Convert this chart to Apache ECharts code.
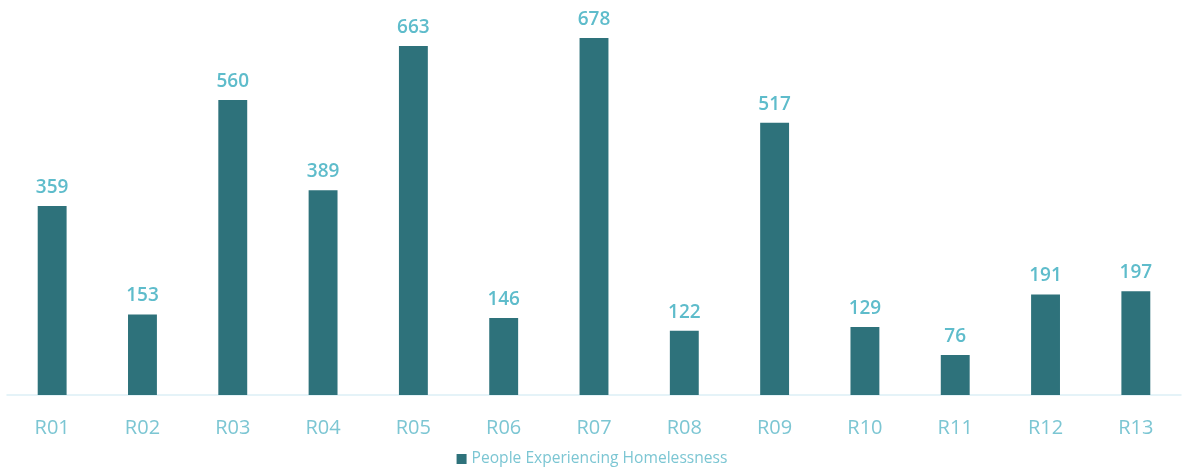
<!DOCTYPE html>
<html><head><meta charset="utf-8">
<script src="https://cdn.jsdelivr.net/npm/echarts@6/dist/echarts.min.js"></script>
<style>html,body{margin:0;padding:0;background:#fff}#c{width:1184px;height:475px}</style>
</head><body><div id="c"></div>
<script>
const categories = ["R01","R02","R03","R04","R05","R06","R07","R08","R09","R10","R11","R12","R13"];
const values = [359,153,560,389,663,146,678,122,517,129,76,191,197];
const seriesName = "People Experiencing Homelessness";
const chart = echarts.init(document.getElementById('c'));
chart.setOption({
  animation:false,
  grid:{left:7,right:3,top:26.4,bottom:80,containLabel:false},
  legend:{bottom:3,left:'center',itemWidth:10,itemHeight:10,itemGap:6,icon:'rect',
    textStyle:{color:'#7cc6d3',fontSize:15.6,fontFamily:'Open Sans'},data:[seriesName]},
  xAxis:{type:'category',data:categories,
    axisLine:{lineStyle:{color:'#ddeff6',width:1.5}},axisTick:{show:false},
    axisLabel:{color:'#7cc6d3',fontSize:20,margin:23,fontFamily:'Open Sans'}},
  yAxis:{type:'value',min:0,max:700,show:false,splitLine:{show:false}},
  series:[{name:seriesName,type:'bar',data:values,barWidth:'32%',
    itemStyle:{color:'#2e727b'},
    label:{show:true,position:'top',distance:9,color:'#5ebccb',fontSize:19,fontWeight:600,fontFamily:'Open Sans'}}]
});
</script></body></html>
